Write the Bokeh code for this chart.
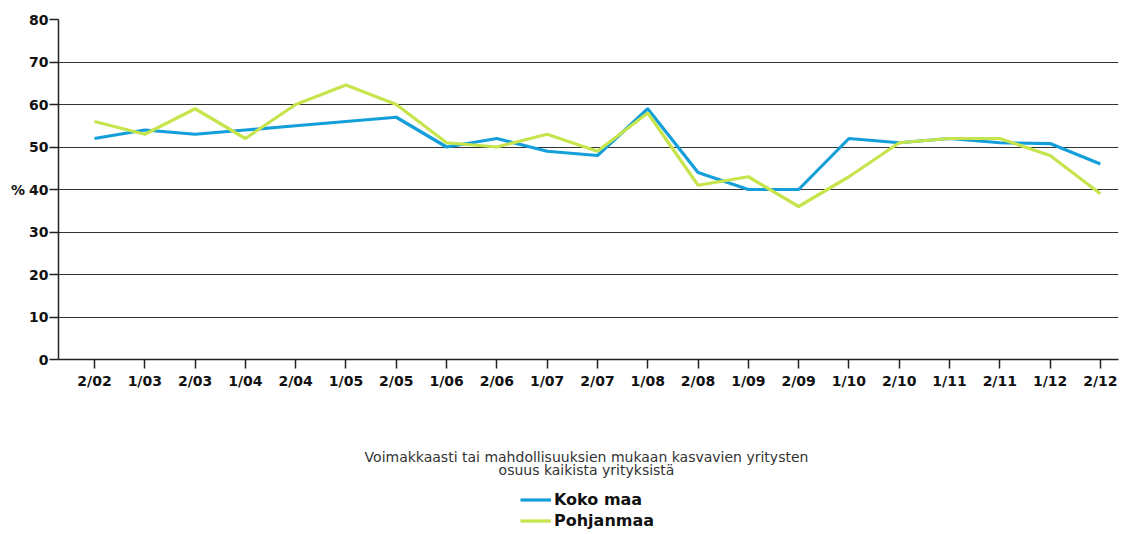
from bokeh.plotting import figure
from bokeh.layouts import column
from bokeh.models import FixedTicker, Legend, LegendItem, Range1d
from bokeh.core.properties import value
from bokeh.embed import file_html
from bokeh.resources import INLINE

periods = ["2/02", "1/03", "2/03", "1/04", "2/04", "1/05", "2/05", "1/06", "2/06", "1/07",
           "2/07", "1/08", "2/08", "1/09", "2/09", "1/10", "2/10", "1/11", "2/11", "1/12", "2/12"]
koko_maa = [52, 54, 53, 54, 55, 56, 57, 50, 52, 49, 48, 59, 44, 40, 40, 52, 51, 52, 51, 50.8, 46]
pohjanmaa = [56, 53, 59, 52, 60, 64.6, 60, 51, 50, 53, 49, 58, 41, 43, 36, 43, 51, 52, 52, 48, 39]
y_ticks = [0, 10, 20, 30, 40, 50, 60, 70, 80]
title_lines = ["Voimakkaasti tai mahdollisuuksien mukaan kasvavien yritysten",
               "osuus kaikista yrityksistä"]
series_names = ["Koko maa", "Pohjanmaa"]

BLUE = "#159fda"
GREEN = "#c6e44c"
FONT = "DejaVu Sans"
W = 1120
LEFT = 58
RIGHT = 2

xs = list(range(len(periods)))

p = figure(width=W, height=400, output_backend="svg", toolbar_location=None,
           x_range=Range1d(-0.716, 20.36), y_range=Range1d(0, 80),
           min_border_left=LEFT, min_border_right=RIGHT, min_border_top=19, min_border_bottom=41)
p.outline_line_color = None
p.background_fill_color = "white"

r1 = p.line(xs, koko_maa, line_color=BLUE, line_width=3.2)
r2 = p.line(xs, pohjanmaa, line_color=GREEN, line_width=3.2)

# axes
p.xaxis.ticker = FixedTicker(ticks=xs)
p.xaxis.major_label_overrides = {i: lab for i, lab in enumerate(periods)}
p.xaxis.minor_tick_line_color = None
p.xaxis.major_tick_out = 9
p.xaxis.major_tick_in = 0
p.xaxis.major_label_text_font = FONT
p.xaxis.major_label_text_font_style = "bold"
p.xaxis.major_label_text_font_size = "14px"
p.xaxis.major_label_text_color = "#111111"
p.xaxis.major_label_standoff = 4
p.xaxis.axis_line_color = "#222222"
p.xaxis.axis_line_width = 1.5
p.xaxis.major_tick_line_color = "#222222"
p.xaxis.major_tick_line_width = 1.5

p.yaxis.ticker = FixedTicker(ticks=y_ticks)
p.yaxis.minor_tick_line_color = None
p.yaxis.major_tick_out = 9
p.yaxis.major_tick_in = 0
p.yaxis.major_label_text_font = FONT
p.yaxis.major_label_text_font_style = "bold"
p.yaxis.major_label_text_font_size = "14px"
p.yaxis.major_label_text_color = "#111111"
p.yaxis.major_label_standoff = 1
p.yaxis.axis_line_color = "#222222"
p.yaxis.axis_line_width = 1.5
p.yaxis.major_tick_line_color = "#222222"
p.yaxis.major_tick_line_width = 1.5
p.yaxis.axis_label = "%"
p.yaxis.axis_label_orientation = "horizontal"
p.yaxis.axis_label_text_font = FONT
p.yaxis.axis_label_text_font_style = "bold"
p.yaxis.axis_label_text_font_size = "14px"
p.yaxis.axis_label_text_color = "#111111"
p.yaxis.axis_label_standoff = 1

p.xgrid.grid_line_color = None
p.ygrid.grid_line_color = "#333333"
p.ygrid.grid_line_width = 1.2
p.ygrid.ticker = FixedTicker(ticks=y_ticks)

# lower panel: caption and legend (page-pixel coordinates; frame aligned with main plot)
H2 = 130
q = figure(width=W, height=H2, output_backend="svg", toolbar_location=None,
           x_range=Range1d(LEFT, W - RIGHT), y_range=Range1d(0, H2),
           min_border_left=LEFT, min_border_right=RIGHT, min_border_top=0, min_border_bottom=0)
q.axis.visible = False
q.grid.visible = False
q.outline_line_color = None

cx = 586
q.text(x=[cx, cx], y=[H2 - 56, H2 - 69], text=title_lines,
       text_font=value(FONT), text_font_size="14px", text_color="#333333",
       text_align="center", text_baseline="middle")

l1 = q.line([-20, -10], [-20, -20], line_color=BLUE, line_width=3.2)
l2 = q.line([-20, -10], [-20, -20], line_color=GREEN, line_width=3.2)
legend = Legend(items=[LegendItem(label=series_names[0], renderers=[l1]),
                       LegendItem(label=series_names[1], renderers=[l2])],
                location=(520 - LEFT, 0), orientation="vertical",
                label_text_font=FONT, label_text_font_style="bold", label_text_font_size="16px",
                label_text_color="#111111", glyph_width=31, glyph_height=19,
                label_standoff=3, spacing=2, padding=0, margin=0, label_height=19,
                border_line_color=None, background_fill_alpha=0)
q.add_layout(legend)

layout = column(p, q, spacing=0)
open("out.html", "w").write(file_html(layout, INLINE))
